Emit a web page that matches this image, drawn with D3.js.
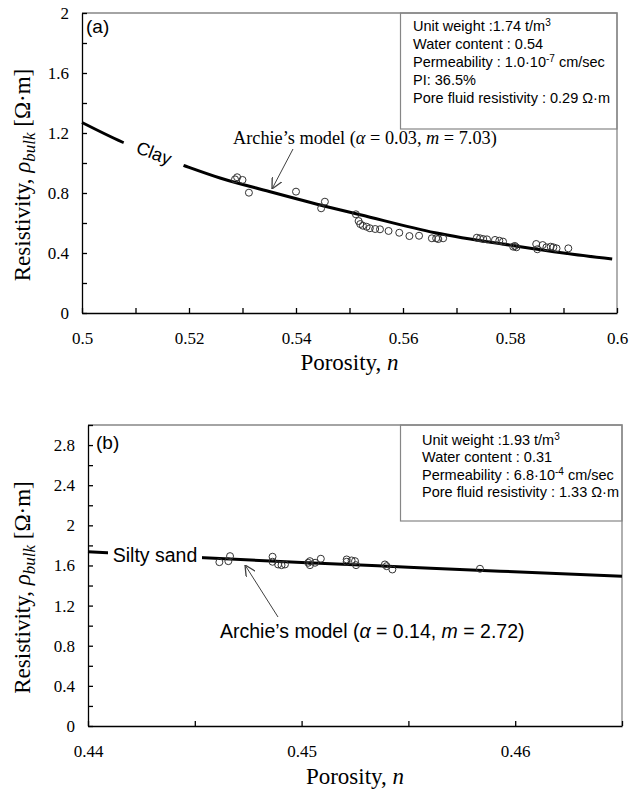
<!DOCTYPE html>
<html>
<head>
<meta charset="utf-8">
<script src="https://cdn.jsdelivr.net/npm/d3@7"></script>
<style>
  body { margin: 0; background: #fff; }
  .tick text { font-family: "Liberation Serif", "Times New Roman", serif; font-size: 17px; fill: #000; }
  .title { font-family: "Liberation Serif", "Times New Roman", serif; font-size: 23px; fill: #000; }
  .sans { font-family: "Liberation Sans", Arial, sans-serif; fill: #000; }
</style>
</head>
<body>
<script>
// (a) Clay - measured points
const clayPorosity = [0.5286, 0.5290, 0.5300, 0.5312, 0.5400, 0.5454, 0.5447, 0.5512, 0.5517, 0.5520,
  0.5525, 0.5532, 0.5538, 0.5548, 0.5557, 0.5573, 0.5593, 0.5612, 0.5630, 0.5654, 0.5662, 0.5666,
  0.5675, 0.5738, 0.5744, 0.5750, 0.5757, 0.5772, 0.5780, 0.5787, 0.5809, 0.5806, 0.5812, 0.5849,
  0.5851, 0.5861, 0.5868, 0.5876, 0.5881, 0.5887, 0.5909];
const clayResistivity = [0.891, 0.905, 0.887, 0.802, 0.809, 0.742, 0.698, 0.658, 0.613, 0.593,
  0.582, 0.575, 0.565, 0.560, 0.558, 0.547, 0.535, 0.513, 0.515, 0.498, 0.498, 0.493,
  0.498, 0.502, 0.498, 0.493, 0.491, 0.487, 0.482, 0.476, 0.447, 0.442, 0.438, 0.460,
  0.425, 0.453, 0.438, 0.442, 0.438, 0.431, 0.431];
// (a) Archie's model curve
const clayModelPorosity = [0.5, 0.5075, 0.5193, 0.5258, 0.535, 0.546, 0.552, 0.566, 0.581, 0.59, 0.5991];
const clayModelResistivity = [1.27, 1.14, 0.98, 0.90, 0.81, 0.707, 0.655, 0.535, 0.447, 0.40, 0.36];

const clayXTicks = [0.5, 0.51, 0.52, 0.53, 0.54, 0.55, 0.56, 0.57, 0.58, 0.59, 0.6];
const clayXLabels = ["0.5", "", "0.52", "", "0.54", "", "0.56", "", "0.58", "", "0.6"];
const clayYTicks = [0, 0.2, 0.4, 0.6, 0.8, 1.0, 1.2, 1.4, 1.6, 1.8, 2.0];
const clayYLabels = ["0", "", "0.4", "", "0.8", "", "1.2", "", "1.6", "", "2"];

// info text, [normal, superscript, normal, ...]
const clayInfo = [
  ["Unit weight :1.74 t/m", "3"],
  ["Water content : 0.54"],
  ["Permeability : 1.0·10", "-7", " cm/sec"],
  ["PI: 36.5%"],
  ["Pore fluid resistivity : 0.29 Ω·m"]
];

// (b) Silty sand - measured points
const sandPorosity = [0.44615, 0.44657, 0.44665, 0.44864, 0.44864, 0.44890, 0.44906, 0.44922,
  0.45031, 0.45039, 0.45039, 0.45063, 0.45090, 0.45211, 0.45211, 0.45234, 0.45250, 0.45255,
  0.45390, 0.45398, 0.45425, 0.45835];
const sandResistivity = [1.633, 1.643, 1.693, 1.687, 1.637, 1.610, 1.603, 1.610,
  1.627, 1.643, 1.603, 1.627, 1.667, 1.660, 1.637, 1.650, 1.643, 1.603,
  1.610, 1.593, 1.560, 1.567];
const sandModelPorosity = [0.44, 0.4452, 0.45, 0.455, 0.4593, 0.465];
const sandModelResistivity = [1.737, 1.679, 1.630, 1.583, 1.543, 1.493];

const sandXTicks = [0.44, 0.445, 0.45, 0.455, 0.46, 0.465];
const sandXLabels = ["0.44", "", "0.45", "", "0.46", ""];
const sandYTicks = [0, 0.2, 0.4, 0.6, 0.8, 1.0, 1.2, 1.4, 1.6, 1.8, 2.0, 2.2, 2.4, 2.6, 2.8, 3.0];
const sandYLabels = ["0", "", "0.4", "", "0.8", "", "1.2", "", "1.6", "", "2", "", "2.4", "", "2.8", ""];

const sandInfo = [
  ["Unit weight :1.93 t/m", "3"],
  ["Water content : 0.31"],
  ["Permeability : 6.8·10", "-4", " cm/sec"],
  ["Pore fluid resistivity : 1.33 Ω·m"]
];

let width = 638, height = 791;

let svg = d3.select("body").append("svg")
  .attr("width", width)
  .attr("height", height)
  .style("background", "#fff");

// arrow head
svg.append("defs").append("marker")
  .attr("id", "arrow")
  .attr("viewBox", "0 0 10 10")
  .attr("refX", 10).attr("refY", 5)
  .attr("markerWidth", 11).attr("markerHeight", 11)
  .attr("markerUnits", "userSpaceOnUse")
  .attr("orient", "auto")
  .append("path")
  .attr("d", "M0,0 L10,5 L0,10")
  .attr("fill", "none")
  .attr("stroke", "#404040")
  .attr("stroke-width", 1.2);

function drawPanel(p) {
  let x = d3.scaleLinear().domain(p.xDomain).range([p.left, p.right]);
  let y = d3.scaleLinear().domain(p.yDomain).range([p.bottom, p.top]);
  let g = svg.append("g");

  // gray frame top/right
  g.append("path")
    .attr("d", `M${p.left},${p.top}H${p.right}V${p.bottom}`)
    .attr("fill", "none").attr("stroke", "#868686").attr("stroke-width", 1.3);

  // info box
  g.append("rect")
    .attr("x", 400.5).attr("y", p.top)
    .attr("width", p.right - 400.5).attr("height", p.boxH)
    .attr("fill", "none").attr("stroke", "#868686").attr("stroke-width", 1.2);

  let info = g.append("text").attr("class", "sans").style("font-size", "14.5px");
  p.info.forEach((line, i) => {
    line.forEach((seg, j) => {
      let t = info.append("tspan").text(seg);
      if (j === 0) t.attr("x", p.infoX).attr("y", p.infoY + i * p.infoStep);
      if (j % 2 === 1) t.attr("dy", -5).style("font-size", "10px");
      else if (j > 0) t.attr("dy", 5);
    });
  });

  // axes, ticks inside
  let xAxis = d3.axisBottom(x).tickValues(p.xTicks)
    .tickFormat((d, i) => p.xLabels[i])
    .tickSizeInner(-5).tickSizeOuter(0).tickPadding(19);
  let yAxis = d3.axisLeft(y).tickValues(p.yTicks)
    .tickFormat((d, i) => p.yLabels[i])
    .tickSizeInner(-5).tickSizeOuter(0).tickPadding(13);

  g.append("g").attr("transform", `translate(0,${p.bottom})`).call(xAxis)
    .call(s => s.selectAll("path,line").attr("stroke", "#000").attr("stroke-width", 1.3));
  g.append("g").attr("transform", `translate(${p.left},0)`).call(yAxis)
    .call(s => s.selectAll("path,line").attr("stroke", "#000").attr("stroke-width", 1.3));

  // model curve
  let line = d3.line().x(d => x(d[0])).y(d => y(d[1])).curve(d3.curveMonotoneX);
  g.append("path")
    .datum(d3.zip(p.modelN, p.modelR))
    .attr("d", line)
    .attr("fill", "none").attr("stroke", "#000").attr("stroke-width", 3);

  // measured data
  g.selectAll("circle.pt")
    .data(d3.zip(p.dataN, p.dataR))
    .enter().append("circle")
    .attr("class", "pt")
    .attr("cx", d => x(d[0]))
    .attr("cy", d => y(d[1]))
    .attr("r", 3.5)
    .attr("fill", "none")
    .attr("stroke", "#333")
    .attr("stroke-width", 1);

  // panel tag
  g.append("text").attr("class", "sans")
    .attr("x", p.tagX).attr("y", p.tagY)
    .style("font-size", "19px").text(p.tag);

  // soil label on the curve (white patch hides the line)
  let sl = p.soil;
  let lg = g.append("g").attr("transform", `translate(${sl.cx},${sl.cy}) rotate(${sl.angle})`);
  lg.append("rect")
    .attr("x", -sl.w / 2).attr("y", -7).attr("width", sl.w).attr("height", 14)
    .attr("fill", "#fff");
  lg.append("text").attr("class", "sans")
    .attr("text-anchor", "middle").attr("dy", "0.35em")
    .style("font-size", sl.size + "px").text(sl.text);

  // Archie label + arrow
  let a = p.archie;
  g.append("line")
    .attr("x1", a.from[0]).attr("y1", a.from[1])
    .attr("x2", a.to[0]).attr("y2", a.to[1])
    .attr("stroke", "#404040").attr("stroke-width", 1)
    .attr("marker-end", "url(#arrow)");
  let at = g.append("text")
    .attr("x", a.x).attr("y", a.y)
    .attr("class", a.serif ? "title" : "sans")
    .style("font-size", a.size + "px");
  at.append("tspan").text("Archie’s model (");
  at.append("tspan").style("font-style", "italic").text("α");
  at.append("tspan").text(a.alpha);
  at.append("tspan").style("font-style", "italic").text("m");
  at.append("tspan").text(a.m);

  // axis titles
  let xt = g.append("text").attr("class", "title")
    .attr("x", (p.left + p.right) / 2).attr("y", p.xTitleY)
    .attr("text-anchor", "middle");
  xt.append("tspan").text("Porosity, ");
  xt.append("tspan").style("font-style", "italic").text("n");

  let yt = g.append("text").attr("class", "title")
    .attr("transform", `translate(${p.yTitleX},${(p.top + p.bottom) / 2 + 12}) rotate(-90)`)
    .attr("text-anchor", "middle");
  yt.append("tspan").text("Resistivity, ");
  yt.append("tspan").style("font-style", "italic").text("ρ");
  yt.append("tspan").style("font-style", "italic").style("font-size", "17px").attr("dy", 5).text("bulk");
  yt.append("tspan").attr("dy", -5).text(" [Ω·m]");
}

drawPanel({
  left: 82, right: 617, top: 13, bottom: 313,
  xDomain: [0.5, 0.6], yDomain: [0, 2],
  xTicks: clayXTicks, xLabels: clayXLabels, yTicks: clayYTicks, yLabels: clayYLabels,
  dataN: clayPorosity, dataR: clayResistivity,
  modelN: clayModelPorosity, modelR: clayModelResistivity,
  info: clayInfo, infoX: 413, infoY: 31, infoStep: 18, boxH: 116,
  tag: "(a)", tagX: 86, tagY: 33,
  soil: { text: "Clay", cx: 154, cy: 153, angle: 21, w: 64, size: 18 },
  archie: { x: 233, y: 144, size: 18.3, serif: true, alpha: " = 0.03, ", m: " = 7.03)",
            from: [293, 149], to: [272, 189] },
  xTitleY: 370, yTitleX: 30
});

drawPanel({
  left: 88, right: 622, top: 425, bottom: 726,
  xDomain: [0.44, 0.465], yDomain: [0, 3],
  xTicks: sandXTicks, xLabels: sandXLabels, yTicks: sandYTicks, yLabels: sandYLabels,
  dataN: sandPorosity, dataR: sandResistivity,
  modelN: sandModelPorosity, modelR: sandModelResistivity,
  info: sandInfo, infoX: 422, infoY: 445, infoStep: 17.3, boxH: 96,
  tag: "(b)", tagX: 96, tagY: 449,
  soil: { text: "Silty sand", cx: 155, cy: 555, angle: 0, w: 94, size: 19.5 },
  archie: { x: 220, y: 638, size: 19.5, serif: false, alpha: "  = 0.14, ", m: " = 2.72)",
            from: [278, 617], to: [245, 565] },
  xTitleY: 784, yTitleX: 30
});
</script>
</body>
</html>
